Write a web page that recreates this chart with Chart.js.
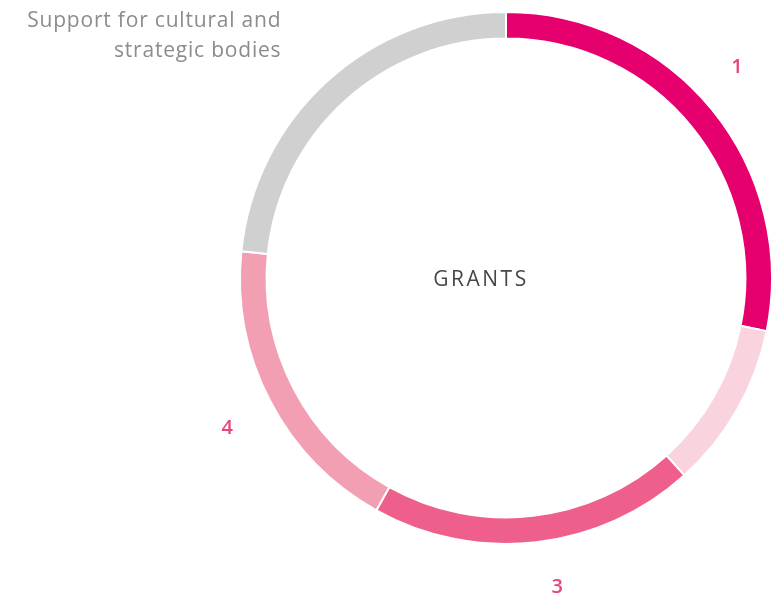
<!DOCTYPE html>
<html>
<head>
<meta charset="utf-8">
<script src="https://cdn.jsdelivr.net/npm/chart.js@4"></script>
<style>
  html,body{margin:0;padding:0;background:#fff;}
  #wrap{width:776px;height:600px;position:relative;}
</style>
</head>
<body>
<div id="wrap"><canvas id="grants"></canvas></div>
<script>
// DATA
const categories = ["1", "2", "3", "4", "Support for cultural and\nstrategic bodies"];
const shares = [28.2, 10.1, 19.8, 18.5, 23.4];
const sliceColors = ["#e6006e", "#f9d3dd", "#ee5f8b", "#f29fb4", "#d0d0d0"];
const showLabel = [true, false, true, true, true];
const centerText = "GRANTS";

// labels drawn around the ring at each slice's mid angle (small nudges per label)
const ringLabels = {
  id: "ringLabels",
  afterDraw(chart, args, opts){
    const ctx = chart.ctx;
    const arcs = chart.getDatasetMeta(0).data;
    ctx.save();
    arcs.forEach((arc, i) => {
      if(!showLabel[i]) return;
      const p = arc.getProps(["x","y","startAngle","endAngle","outerRadius"], true);
      const mid = (p.startAngle + p.endAngle) / 2;
      const r = p.outerRadius + 45;
      const n = opts.nudge[i] || [0, 0];
      const x = p.x + Math.cos(mid) * r + n[0];
      const y = p.y + Math.sin(mid) * r + n[1];
      const lines = categories[i].split("\n");
      ctx.textBaseline = "middle";
      if(lines.length > 1){
        ctx.font = "21px 'Open Sans', sans-serif";
        ctx.letterSpacing = "0.8px";
        ctx.fillStyle = "#8c8c8c";
        ctx.textAlign = "right";
        lines.forEach((t, k) => ctx.fillText(t, x, y + k * 30));
      } else {
        ctx.font = "600 20px 'Open Sans', sans-serif";
        ctx.letterSpacing = "0px";
        ctx.fillStyle = "#e8447d";
        ctx.textAlign = "center";
        ctx.fillText(categories[i], x, y);
      }
    });
    const a = arcs[0];
    ctx.font = "21px 'Open Sans', sans-serif";
    ctx.letterSpacing = "2.5px";
    ctx.fillStyle = "#474747";
    ctx.textAlign = "center";
    ctx.textBaseline = "middle";
    ctx.fillText(centerText, a.x - 25, a.y + 2);
    ctx.restore();
  }
};

new Chart(document.getElementById("grants").getContext("2d"), {
  type: "doughnut",
  data: {
    labels: categories,
    datasets: [{
      data: shares,
      backgroundColor: sliceColors,
      borderColor: "#fff",
      borderWidth: 2
    }]
  },
  options: {
    responsive: true,
    maintainAspectRatio: false,
    animation: false,
    cutout: "90%",
    layout: { padding: { left: 239, right: 3, top: 11, bottom: 55 } },
    plugins: {
      legend: { display: false },
      tooltip: { enabled: false },
      ringLabels: { nudge: { 0: [-10, -14], 2: [16, 0], 3: [-3, 7], 4: [-16, -26] } }
    }
  },
  plugins: [ringLabels]
});
</script>
</body>
</html>
